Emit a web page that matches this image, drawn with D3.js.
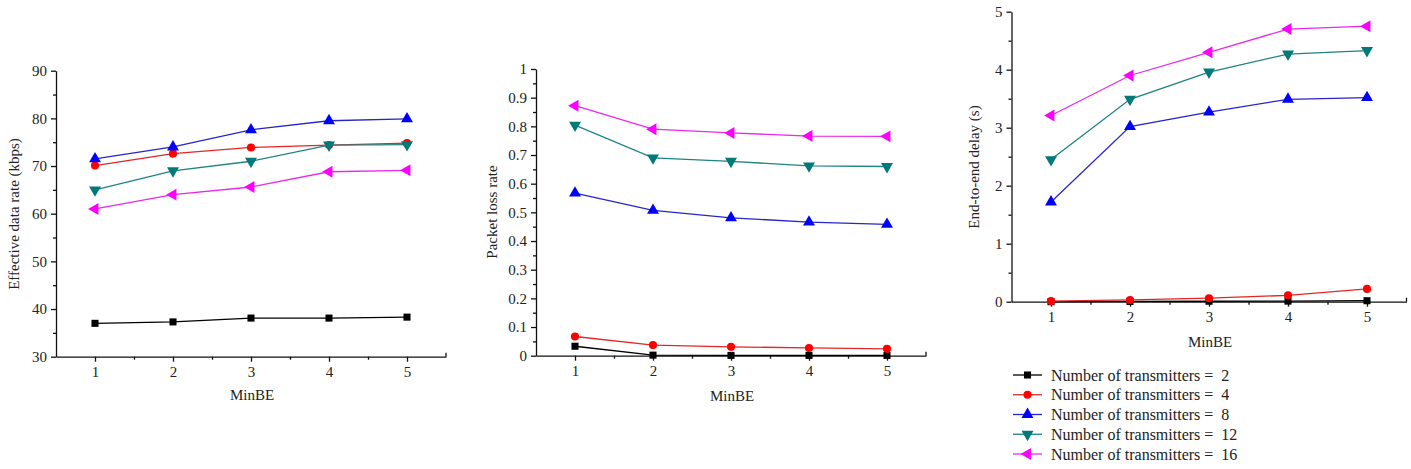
<!DOCTYPE html>
<html>
<head>
<meta charset="utf-8">
<script src="https://cdn.jsdelivr.net/npm/d3@7"></script>
<style>
  body { margin: 0; background: #fff; }
  svg { display: block; }
</style>
</head>
<body>
<div id="chart"></div>
<script>
// values
const minBE = [1, 2, 3, 4, 5];
const transmitters = [2, 4, 8, 12, 16];
const dataRate = [
  [37.0, 37.3, 38.1, 38.1, 38.3],
  [70.1, 72.6, 73.9, 74.4, 74.8],
  [71.5, 74.0, 77.6, 79.5, 79.9],
  [65.0, 69.0, 71.0, 74.4, 74.5],
  [61.0, 64.0, 65.6, 68.8, 69.1]
];
const lossRate = [
  [0.033, 0.002, 0.001, 0.001, 0.001],
  [0.067, 0.037, 0.031, 0.027, 0.024],
  [0.567, 0.507, 0.481, 0.466, 0.458],
  [0.804, 0.690, 0.678, 0.662, 0.660],
  [0.872, 0.790, 0.777, 0.766, 0.765]
];
const delay = [
  [0.00, 0.005, 0.008, 0.01, 0.017],
  [0.01, 0.03, 0.06, 0.11, 0.22],
  [1.72, 3.02, 3.27, 3.49, 3.52],
  [2.45, 3.49, 3.96, 4.27, 4.33],
  [3.21, 3.90, 4.30, 4.70, 4.75]
];
const rateTicks = [30, 40, 50, 60, 70, 80, 90];
const lossTicks = [0, 0.1, 0.2, 0.3, 0.4, 0.5, 0.6, 0.7, 0.8, 0.9, 1];
const delayTicks = [0, 1, 2, 3, 4, 5];

const lineColors = ["#000000", "#e32626", "#2626c8", "#1f8282", "#e82ae8"];
const markColors = ["#000000", "#ff0000", "#0000ff", "#007a78", "#ff00ff"];
// square, circle, triangle up, triangle down, triangle left
const markShape = [d3.symbolSquare, d3.symbolCircle, d3.symbolTriangle, d3.symbolTriangle, d3.symbolTriangle];
const markSize = [50, 52, 62, 62, 62];
const markRotate = [0, 0, 0, 180, -90];

const FONT = '"Liberation Serif", "DejaVu Serif", serif';
const W = 1411, H = 469;
const svg = d3.select("#chart").append("svg")
  .attr("width", W)
  .attr("height", H)
  .attr("font-family", FONT);

const panels = [
  { values: dataRate, ticks: rateTicks, minor: 5, x0: 56, x1: 446, yTop: 70.7, yBot: 356.7,
    title: "Effective data rate (kbps)", tx: 14, ty: 214, mx: 252, my: 395, fmt: d3.format("d") },
  { values: lossRate, ticks: lossTicks, minor: 0.05, x0: 536, x1: 926, yTop: 69, yBot: 355.7,
    title: "Packet loss rate", tx: 492, ty: 212, mx: 732, my: 396, fmt: d3.format(".1~f") },
  { values: delay, ticks: delayTicks, minor: 0.5, x0: 1011.5, x1: 1406.5, yTop: 11.7, yBot: 301.7,
    title: "End-to-end delay (s)", tx: 974, ty: 167, mx: 1210, my: 342, fmt: d3.format("d") }
];

function marker(sel, i) {
  sel.append("path")
    .attr("d", d3.symbol().type(markShape[i]).size(markSize[i]))
    .attr("fill", markColors[i])
}

panels.forEach(p => {
  const lo = p.ticks[0], hi = p.ticks[p.ticks.length - 1];
  const x = d3.scaleLinear().domain([0.5, 5.5]).range([p.x0, p.x1]);
  const y = d3.scaleLinear().domain([lo, hi]).range([p.yBot, p.yTop]);
  const g = svg.append("g");

  // minor ticks first, then the major axes over them
  const minorY = d3.range(lo + p.minor, hi, p.minor * 2);
  g.append("g")
    .attr("transform", "translate(" + p.x0 + ",0)")
    .call(d3.axisLeft(y).tickValues(minorY).tickSize(3).tickSizeOuter(0).tickFormat(""))
    .call(a => a.select(".domain").remove());
  g.append("g")
    .attr("transform", "translate(0," + p.yBot + ")")
    .call(d3.axisBottom(x).tickValues([1.5, 2.5, 3.5, 4.5]).tickSize(3).tickSizeOuter(0).tickFormat(""))
    .call(a => a.select(".domain").remove());

  const yAxis = g.append("g")
    .attr("transform", "translate(" + p.x0 + ",0)")
    .call(d3.axisLeft(y).tickValues(p.ticks).tickSize(5).tickSizeOuter(0).tickPadding(4).tickFormat(p.fmt));
  const xAxis = g.append("g")
    .attr("transform", "translate(0," + p.yBot + ")")
    .call(d3.axisBottom(x).tickValues(minBE).tickSize(5).tickSizeOuter(0).tickPadding(5).tickFormat(d3.format("d")));
  g.selectAll("g").attr("font-family", FONT).attr("font-size", null);
  [yAxis, xAxis].forEach(a => {
    a.selectAll("text").attr("font-size", "15px").style("font-family", FONT).attr("fill", "#222");
    a.selectAll("path, line").attr("stroke", "#111").attr("stroke-width", 1.3);
  });
  g.selectAll("line").attr("stroke", "#111").attr("stroke-width", 1.3);
  // little up tick at the far end of the x axis
  g.append("line")
    .attr("x1", x(5.5)).attr("x2", x(5.5))
    .attr("y1", p.yBot).attr("y2", p.yBot - 4)
    .attr("stroke", "#111").attr("stroke-width", 1.3);

  const line = d3.line()
    .x((d, k) => x(minBE[k]))
    .y(d => y(d));

  p.values.forEach((vals, i) => {
    g.append("path")
      .datum(vals)
      .attr("d", line)
      .attr("fill", "none")
      .attr("stroke", lineColors[i])
      .attr("stroke-width", 1.3);
    g.selectAll(".m" + i)
      .data(vals)
      .enter().append("g")
      .attr("transform", (d, k) => "translate(" + x(minBE[k]) + "," + y(d) + ") rotate(" + markRotate[i] + ")")
      .call(sel => marker(sel, i));
  });

  g.append("text")
    .attr("transform", "translate(" + p.tx + "," + p.ty + ") rotate(-90)")
    .attr("text-anchor", "middle")
    .attr("dominant-baseline", "central")
    .attr("font-size", "15px")
    .style("font-family", FONT)
    .attr("fill", "#222")
    .text(p.title);
  g.append("text")
    .attr("x", p.mx)
    .attr("y", p.my)
    .attr("text-anchor", "middle")
    .attr("dominant-baseline", "central")
    .attr("font-size", "15px")
    .style("font-family", FONT)
    .attr("fill", "#222")
    .text("MinBE");
});

// legend under the right panel
const legend = svg.append("g");
transmitters.forEach((n, i) => {
  const ly = 375 + i * 19.75;
  legend.append("line")
    .attr("x1", 1013).attr("x2", 1042)
    .attr("y1", ly).attr("y2", ly)
    .attr("stroke", lineColors[i])
    .attr("stroke-width", 1.3);
  legend.append("g")
    .attr("transform", "translate(1027.5," + ly + ") rotate(" + markRotate[i] + ")")
    .call(sel => marker(sel, i));
  legend.append("text")
    .attr("x", 1051)
    .attr("y", ly)
    .attr("dominant-baseline", "central")
    .attr("font-size", "16px")
    .style("font-family", FONT)
    .attr("fill", "#222")
    .text("Number of transmitters =  " + n)
    .style("white-space", "pre");
});
</script>
</body>
</html>
